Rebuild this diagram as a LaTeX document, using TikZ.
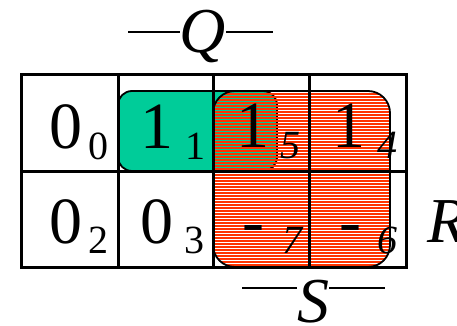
\documentclass[tikz,border=0pt]{standalone}
\usepackage{fontspec}
\setmainfont{Liberation Serif}
\usetikzlibrary{positioning}
\definecolor{kgreen}{RGB}{0,204,153}
\definecolor{korange}{RGB}{255,51,0}
\tikzset{
  cellgrid/.style={draw,line width=3pt},
  bigdig/.style={anchor=base,inner sep=0pt,font=\fontsize{66}{70}\selectfont},
  subdig/.style={anchor=base,inner sep=0pt,font=\fontsize{40}{44}\selectfont},
  varname/.style={anchor=base,inner sep=0pt,font=\fontsize{64}{68}\selectfont\itshape},
  grp/.style={draw,line width=1.8pt}
}

\begin{document}
\begin{tikzpicture}[x=1pt,y=-1pt]
  \useasboundingbox (0,0) rectangle (457,326);
  % green group (cells 1 and 5)
  \fill[kgreen] [rounded corners=14pt] (118,91) rectangle (277,171);
  \draw[grp] [rounded corners=14pt] (118,91) rectangle (277,171);
  % striped orange group (cells 5, 4, 7, 6)
  \begin{scope}
    \clip[rounded corners=22pt] (213,91) rectangle (390,267);
    \foreach \yy in {91,94,...,268}
      \draw[korange,line width=2pt] (210,\yy) -- (393,\yy);
  \end{scope}
  \draw[grp] [rounded corners=22pt] (213,91) rectangle (390,267);
  % map cells
  \draw[cellgrid] (21,75) rectangle (406,267);
  \draw[cellgrid] (21,171) -- (406,171);
  \foreach \xx in {118,213,309}
    \draw[cellgrid] (\xx,75) -- (\xx,267);
  % entries
  \node[bigdig] (m0) at (66,148) {0};
  \node[subdig] (s0) at (98,159) {0};
  \node[bigdig] (m1) at (157,148) {1};
  \node[subdig] (s1) at (195,159) {1};
  \node[bigdig] (m5) at (253,147) {1};
  \node[subdig,font=\fontsize{40}{44}\selectfont\itshape] (s5) at (290,158) {5};
  \node[bigdig] (m4) at (349,147) {1};
  \node[subdig,font=\fontsize{40}{44}\selectfont\itshape] (s4) at (387,158) {4};
  \node[bigdig] (m2) at (66,243) {0};
  \node[subdig] (s2) at (98,253) {2};
  \node[bigdig] (m3) at (157,243) {0};
  \node[subdig] (s3) at (194,253) {3};
  \node[bigdig] (m7) at (253,243) {-};
  \node[subdig,font=\fontsize{40}{44}\selectfont\itshape] (s7) at (292,253) {7};
  \node[bigdig] (m6) at (350,243) {-};
  \node[subdig,font=\fontsize{40}{44}\selectfont\itshape] (s6) at (387,253) {6};
  % variable names
  \node[varname] (q) at (203,53) {Q};
  \coordinate (ql) at (128,32);
  \coordinate (qr) at (273,32);
  \draw[line width=2pt] (ql) -- (ql -| q.west);
  \draw[line width=2pt] (q.east |- qr) -- (qr);
  \node[varname] (s) at (313,322) {S};
  \coordinate (sl) at (242,288);
  \coordinate (sr) at (385,288);
  \draw[line width=2pt] (sl) -- (sl -| s.west);
  \draw[line width=2pt] (s.east |- sr) -- (sr);
  \node[varname,anchor=base west] (r) at (427,242) {R};
\end{tikzpicture}
\end{document}
